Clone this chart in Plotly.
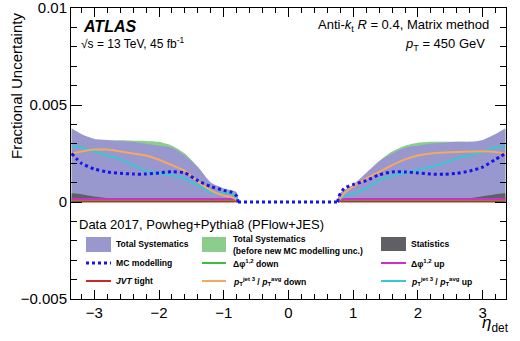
import plotly.graph_objects as go

# eta grid shared by all curves (central region |eta| < 0.78 carries no uncertainty)
eta = [-3.35, -3.2, -3.0, -2.8, -2.6, -2.4, -2.2, -2.0, -1.8, -1.6, -1.4, -1.2, -1.0, -0.88, -0.8, -0.78,
       0.0,
       0.76, 0.78, 0.86, 1.0, 1.2, 1.4, 1.6, 1.8, 2.0, 2.2, 2.4, 2.6, 2.8, 3.0, 3.2, 3.35]

total_syst = [0.0038, 0.0035, 0.00325, 0.0032, 0.00315, 0.0031, 0.0030, 0.0029, 0.0028, 0.0024, 0.0018, 0.0010, 0.0007, 0.0006, 0.0005, 0.0,
              None,
              0.0, 0.0004, 0.0006, 0.0009, 0.0015, 0.0021, 0.0025, 0.0028, 0.0029, 0.0030, 0.00305, 0.0031, 0.0031, 0.0032, 0.0035, 0.0038]

total_syst_before = [0.0037, 0.0034, 0.0032, 0.00315, 0.00318, 0.00316, 0.00315, 0.0031, 0.0029, 0.0025, 0.0018, 0.00095, 0.00065, 0.00055, 0.00045, 0.0,
                     None,
                     0.0, 0.00035, 0.00055, 0.00085, 0.0014, 0.0021, 0.0026, 0.0029, 0.00305, 0.0031, 0.0031, 0.0031, 0.0031, 0.0031, 0.0034, 0.0037]

statistics = [0.00045, 0.0004, 0.00028, 0.0002, 0.00015, 0.00012, 0.0001, 0.0001, 0.0001, 0.0001, 0.0001, 0.0001, 0.0001, 0.0001, 0.0001, 0.0,
              None,
              0.0, 0.0001, 0.0001, 0.0001, 0.0001, 0.0001, 0.0001, 0.0001, 0.0001, 0.00012, 0.00014, 0.00016, 0.0002, 0.0003, 0.0004, 0.00045]

mc_modelling = [0.0025, 0.0020, 0.0017, 0.00155, 0.00148, 0.00144, 0.00144, 0.0015, 0.00156, 0.0015, 0.0011, 0.0008, 0.0006, 0.0005, 0.0003, 0.0,
                0.0,
                0.0, 0.0003, 0.0007, 0.0009, 0.0011, 0.0014, 0.00155, 0.00155, 0.0015, 0.00144, 0.00143, 0.00148, 0.0016, 0.0018, 0.0022, 0.0025]

dphi_down = [0.00012, 0.00012, 0.00012, 0.00012, 0.00012, 0.00012, 0.00012, 0.00012, 0.00012, 0.00012, 0.00012, 0.00012, 0.00012, 0.00012, 0.0001, 0.0,
             None,
             0.0, 0.0001, 0.00012, 0.00012, 0.00012, 0.00012, 0.00012, 0.00012, 0.00012, 0.00012, 0.00012, 0.00012, 0.00012, 0.00012, 0.00012, 0.00012]

dphi_up = [0.00016, 0.00016, 0.00016, 0.00016, 0.00016, 0.00016, 0.00016, 0.00016, 0.00016, 0.00016, 0.00016, 0.00016, 0.00015, 0.00015, 0.00012, 0.0,
           None,
           0.0, 0.00012, 0.00015, 0.00015, 0.00016, 0.00016, 0.00016, 0.00016, 0.00016, 0.00016, 0.00016, 0.00016, 0.00016, 0.00016, 0.00016, 0.00016]

jvt_tight = [0.00003, 0.00003, 0.00003, 0.00003, 0.00003, 0.00003, 0.00003, 0.00003, 0.00003, 0.00003, 0.00003, 0.00003, 0.00003, 0.00003, 0.00003, 0.0,
             None,
             0.0, 0.00003, 0.00003, 0.00003, 0.00003, 0.00003, 0.00003, 0.00003, 0.00003, 0.00003, 0.00003, 0.00003, 0.00003, 0.00003, 0.00003, 0.00003]

pt3_down = [0.0025, 0.0026, 0.0027, 0.0027, 0.0026, 0.0025, 0.0024, 0.00218, 0.0019, 0.0016, 0.00105, 0.0006, 0.00033, 0.00025, 0.0001, 0.0,
            None,
            0.0, 0.0001, 0.00045, 0.0008, 0.0012, 0.00155, 0.0019, 0.0022, 0.0024, 0.0025, 0.00255, 0.00258, 0.0026, 0.00262, 0.00258, 0.0025]

pt3_up = [0.0029, 0.0028, 0.0026, 0.0024, 0.0022, 0.0019, 0.0016, 0.00148, 0.00138, 0.0012, 0.00085, 0.0005, 0.00048, 0.00045, 0.0002, 0.0,
          None,
          0.0, 0.0001, 0.0003, 0.00042, 0.0007, 0.0011, 0.00135, 0.0015, 0.00165, 0.0018, 0.002, 0.00225, 0.0024, 0.0026, 0.0028, 0.0029]

y_tick_vals = [-0.005, 0.0, 0.005, 0.01]
y_tick_text = ["\u22120.005", "0", "0.005", "0.01"]
x_tick_vals = [-3, -2, -1, 0, 1, 2, 3]

FONT = "Liberation Sans, Arial, Helvetica, sans-serif"

PURPLE = "rgb(152,152,206)"
GREEN_FILL = "rgb(140,204,140)"
STAT = "rgb(95,95,100)"
BLUE = "rgb(20,20,235)"
GREEN = "rgb(60,190,60)"
MAGENTA = "rgb(200,50,200)"
RED = "rgb(205,40,40)"
ORANGE = "rgb(245,168,95)"
CYAN = "rgb(55,200,210)"

SPLINE = dict(shape="spline", smoothing=0.6)
C = eta.index(0.0)  # index of the central point

fig = go.Figure()

# uncertainty bands, drawn from zero upwards (each side filled separately)
for vals, col in [(total_syst_before, GREEN_FILL), (total_syst, PURPLE), (statistics, STAT)]:
    fig.add_trace(go.Scatter(x=eta, y=vals, mode="lines", fill="tozeroy", fillcolor=col,
                             line=dict(width=0, color=col, **SPLINE), connectgaps=False,
                             hoverinfo="skip", showlegend=False))

# individual systematic components
for vals, col in [(jvt_tight, RED), (dphi_down, GREEN), (dphi_up, MAGENTA),
                  (pt3_up, CYAN), (pt3_down, ORANGE)]:
    fig.add_trace(go.Scatter(x=eta, y=vals, mode="lines",
                             line=dict(color=col, width=2, **SPLINE),
                             connectgaps=False, hoverinfo="skip", showlegend=False))

# MC modelling: smooth wings and a straight central plateau
for sl, shp in [(slice(0, C), SPLINE), (slice(C - 1, C + 2), dict(shape="linear")), (slice(C + 1, None), SPLINE)]:
    fig.add_trace(go.Scatter(x=eta[sl], y=mc_modelling[sl], mode="lines",
                             line=dict(color=BLUE, width=3, dash="dot", **shp),
                             hoverinfo="skip", showlegend=False))

# plot frame in pixels
L, R, T, B = 71, 506, 8, 299
W, H = 520, 341


def px(x):
    return (x - L) / (R - L)


def py(y):
    return (B - y) / (B - T)


ann = []


def text(x, y, s, size, xanchor="left", yanchor="middle", angle=0):
    ann.append(dict(x=px(x), y=py(y), xref="paper", yref="paper", text=s, showarrow=False,
                    xanchor=xanchor, yanchor=yanchor, textangle=angle,
                    font=dict(family=FONT, size=size, color="black")))


text(81, 26, "<b><i>ATLAS</i></b>", 16)
text(79, 43, "\u221as = 13 TeV, 45 fb<sup>-1</sup>", 12)
text(491, 25, "Anti-<i>k</i><sub>t</sub> <i>R</i> = 0.4, Matrix method", 13, xanchor="right")
text(487, 44, "<i>p</i><sub>T</sub> = 450 GeV", 13, xanchor="right")
text(77, 224, "Data 2017, Powheg+Pythia8 (PFlow+JES)", 13)
text(17, 11, "Fractional Uncertainty", 15, xanchor="center", yanchor="top", angle=-90)
text(511, 324, "<i>\u03b7</i><sub>det</sub>", 17, xanchor="right")

# legend block
shapes = []


def box(x0, x1, y0, y1, col):
    shapes.append(dict(type="rect", xref="paper", yref="paper", x0=px(x0), x1=px(x1),
                       y0=py(y1), y1=py(y0), fillcolor=col, line=dict(width=0)))


def seg(x0, x1, y, col, dash="solid", w=2):
    shapes.append(dict(type="line", xref="paper", yref="paper", x0=px(x0), x1=px(x1),
                       y0=py(y), y1=py(y), line=dict(color=col, width=w, dash=dash)))


LS = 8.6
rows = [244, 263, 281]

box(86, 111, 237, 252, PURPLE)
box(202, 226, 237, 252, GREEN_FILL)
box(381, 406, 237, 251, STAT)
seg(86, 111, rows[1], BLUE, "dot", 3)
seg(202, 226, rows[1], GREEN)
seg(381, 406, rows[1], MAGENTA)
seg(86, 111, rows[2], RED)
seg(202, 226, rows[2], ORANGE)
seg(381, 406, rows[2], CYAN)

text(114, rows[0], "<b>Total Systematics</b>", LS)
text(231, 239, "<b>Total Systematics</b>", LS)
text(231, 251, "<b>(before new MC modelling unc.)</b>", LS)
text(409, rows[0], "<b>Statistics</b>", LS)
text(114, rows[1], "<b>MC modelling</b>", LS)
text(231, rows[1], "<b>\u0394\u03c6<sup>1,2</sup> down</b>", LS)
text(409, rows[1], "<b>\u0394\u03c6<sup>1,2</sup> up</b>", LS)
text(114, rows[2], "<b><i>JVT</i> tight</b>", LS)
text(231, rows[2], "<b><i>p</i><sub>T</sub><sup>jet 3</sup> / <i>p</i><sub>T</sub><sup>avg</sup> down</b>", LS)
text(409, rows[2], "<b><i>p</i><sub>T</sub><sup>jet 3</sup> / <i>p</i><sub>T</sub><sup>avg</sup> up</b>", LS)

axis_common = dict(showgrid=False, zeroline=False, showline=True, linecolor="black", linewidth=1,
                   mirror="allticks", ticks="inside", tickcolor="black",
                   ticklabeloverflow="allow", automargin=False,
                   tickfont=dict(family=FONT, size=15, color="black"))

fig.update_layout(
    width=W, height=H,
    margin=dict(l=L, r=W - R, t=T, b=H - B, autoexpand=False),
    paper_bgcolor="white", plot_bgcolor="white",
    showlegend=False,
    annotations=ann, shapes=shapes,
    xaxis=dict(range=[-3.36, 3.36], tickvals=x_tick_vals, ticklen=9,
               minor=dict(dtick=0.2, tick0=0, ticklen=5, ticks="inside", tickcolor="black"),
               **axis_common),
    yaxis=dict(range=[-0.005, 0.0100001], tickvals=y_tick_vals, ticktext=y_tick_text, ticklen=11,
               minor=dict(dtick=0.001, tick0=0, ticklen=6, ticks="inside", tickcolor="black"),
               **axis_common),
)

fig.write_html("out.html")
